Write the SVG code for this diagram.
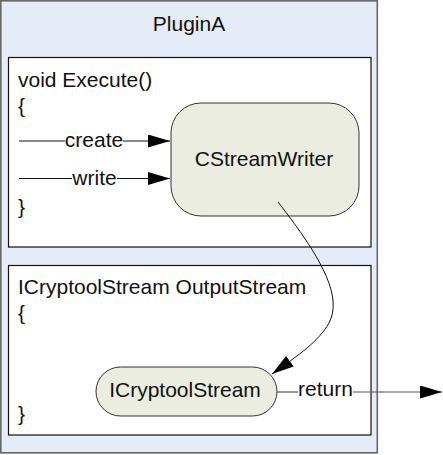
<svg xmlns="http://www.w3.org/2000/svg" width="443" height="455" viewBox="0 0 443 455">
<style>
text{font-family:"Liberation Sans",Arial,sans-serif;font-size:21px;fill:#111}
.box{fill:#fff;stroke:#111;stroke-width:1.2}
.node{fill:#EAEDDF;stroke:#333;stroke-width:1}
.ln{stroke:#111;stroke-width:1;fill:none}
.gl{stroke:#555;stroke-width:1.2;fill:none}
</style>
<defs>
<marker id="ah" viewBox="0 0 22 13" refX="22" refY="6.5" markerWidth="22" markerHeight="13" markerUnits="userSpaceOnUse" orient="auto">
<path d="M0,0 L22,6.5 L0,13 Z" fill="#000"/>
</marker>
</defs>
<g id="pluginA">
<rect x="0.8" y="0.8" width="376.5" height="452" fill="#E6ECF7" stroke="#666" stroke-width="1.6"/>
<text x="189" y="31" text-anchor="middle">PluginA</text>
</g>
<g id="execute">
<rect class="box" x="8.5" y="57.5" width="362.5" height="189.5"/>
<text x="18" y="87">void Execute()</text>
<text x="18" y="113">{</text>
<text x="18" y="214">}</text>
</g>
<g id="outputStream">
<rect class="box" x="8.5" y="265.5" width="362.5" height="169.5"/>
<text x="18" y="294">ICryptoolStream OutputStream</text>
<text x="18" y="320">{</text>
<text x="18" y="421">}</text>
</g>
<g id="cstreamwriter">
<rect class="node" x="171" y="103" width="188" height="113" rx="30" ry="30"/>
<text x="264" y="166" text-anchor="middle">CStreamWriter</text>
</g>
<g id="icryptoolstream">
<rect class="node" x="96" y="367" width="181" height="49" rx="24.5" ry="24.5"/>
<text x="185" y="397" text-anchor="middle">ICryptoolStream</text>
</g>
<g id="connectors">
<line class="ln" x1="19" y1="141" x2="65" y2="141"/>
<line class="ln" x1="123" y1="141" x2="170" y2="141" marker-end="url(#ah)"/>
<text x="94" y="147" text-anchor="middle">create</text>
<line class="ln" x1="19" y1="178.5" x2="72" y2="178.5"/>
<line class="ln" x1="117" y1="178.5" x2="170" y2="178.5" marker-end="url(#ah)"/>
<text x="94.5" y="184.5" text-anchor="middle">write</text>
<path class="ln" d="M278,202 C325,262 342,298 329,323 C318,342 300,354 272,374" marker-end="url(#ah)"/>
<line class="gl" x1="277" y1="392" x2="298" y2="392"/>
<line class="gl" x1="353" y1="392" x2="442" y2="392" marker-end="url(#ah)"/>
<text x="325.5" y="396" text-anchor="middle">return</text>
</g>
</svg>
